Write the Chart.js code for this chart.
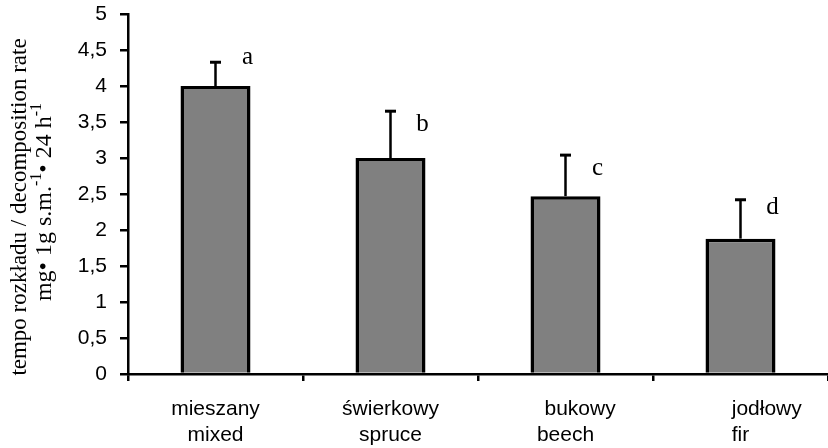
<!DOCTYPE html>
<html>
<head>
<meta charset="utf-8">
<script src="https://cdn.jsdelivr.net/npm/chart.js@4.4.1/dist/chart.umd.min.js"></script>
<style>
  html, body { margin: 0; padding: 0; background: #fff; overflow: hidden; }
  #wrap { width: 828px; height: 448px; }
</style>
</head>
<body>
<div id="wrap"><canvas id="chart" width="828" height="448"></canvas></div>
<script>
// dane
const categories = [['mieszany', 'mixed'], ['świerkowy', 'spruce'], ['\u00a0\u00a0\u00a0\u00a0\u00a0bukowy', 'beech'], ['\u00a0\u00a0\u00a0\u00a0\u00a0\u00a0\u00a0\u00a0\u00a0jodłowy', 'fir']];
const rates = [4.0, 3.0, 2.47, 1.88];
const errUp = [0.33, 0.65, 0.57, 0.54];
const letters = ['a', 'b', 'c', 'd'];
const letterLevel = [4.39, 3.46, 2.86, 2.31];
const yTicks = [0, 0.5, 1, 1.5, 2, 2.5, 3, 3.5, 4, 4.5, 5];

// słupki błędu (tylko w górę) + litery
const errorBars = {
  id: 'errorBars',
  afterDatasetsDraw(chart) {
    const { ctx } = chart;
    const y = chart.scales.y;
    const meta = chart.getDatasetMeta(0);
    ctx.save();
    ctx.strokeStyle = '#000';
    meta.data.forEach((bar, i) => {
      const top = y.getPixelForValue(rates[i] + errUp[i]);
      ctx.lineWidth = 2.5;
      ctx.beginPath();
      ctx.moveTo(bar.x, bar.y);
      ctx.lineTo(bar.x, top);
      ctx.stroke();
      ctx.lineWidth = 3;
      ctx.beginPath();
      ctx.moveTo(bar.x - 5.5, top);
      ctx.lineTo(bar.x + 5.5, top);
      ctx.stroke();

      ctx.fillStyle = '#000';
      ctx.font = '25px "Liberation Serif", "Times New Roman", serif';
      ctx.textAlign = 'center';
      ctx.textBaseline = 'middle';
      ctx.fillText(letters[i], bar.x + 32, y.getPixelForValue(letterLevel[i]));
    });
    ctx.restore();
  }
};

// tytuł osi Y w dwóch liniach, z indeksem górnym
const yTitle = {
  id: 'yTitle',
  afterDraw(chart) {
    const { ctx } = chart;
    const font = '23px "Liberation Serif", "Times New Roman", serif';
    const font2 = '24px "Liberation Serif", "Times New Roman", serif';
    const small = '16px "Liberation Serif", "Times New Roman", serif';
    ctx.save();
    ctx.fillStyle = '#000';
    ctx.textBaseline = 'middle';

    ctx.translate(20, 207);
    ctx.rotate(-Math.PI / 2);
    ctx.font = font;
    ctx.textAlign = 'center';
    ctx.fillText('tempo rozkładu / decomposition rate', 0, 0);
    ctx.restore();

    const parts = [['mg• 1g s.m.', false], ['-1', true], ['• 24 h', false], ['-1', true]];
    ctx.save();
    ctx.fillStyle = '#000';
    ctx.textBaseline = 'middle';
    ctx.textAlign = 'left';
    ctx.translate(45, 202);
    ctx.rotate(-Math.PI / 2);
    let total = 0;
    parts.forEach(([t, sup]) => { ctx.font = sup ? small : font2; total += ctx.measureText(t).width; });
    let x = -total / 2;
    parts.forEach(([t, sup]) => {
      ctx.font = sup ? small : font2;
      ctx.fillText(t, x, sup ? -8 : 0);
      x += ctx.measureText(t).width;
    });
    ctx.restore();
  }
};

new Chart(document.getElementById('chart'), {
  type: 'bar',
  data: {
    labels: categories,
    datasets: [{
      data: rates,
      backgroundColor: '#808080',
      borderColor: '#000',
      borderWidth: 3.5,
      borderSkipped: 'bottom',
      categoryPercentage: 1,
      barPercentage: 0.4
    }]
  },
  options: {
    responsive: false,
    animation: false,
    layout: { padding: { top: 14, right: 0, left: 0, bottom: 0 } },
    plugins: { legend: { display: false }, tooltip: { enabled: false } },
    scales: {
      x: {
        grid: { display: true, drawOnChartArea: false, color: '#000', lineWidth: 2.5, tickLength: 7, offset: true },
        border: { display: true, color: '#000', width: 2.5 },
        ticks: {
          color: '#000',
          padding: 16,
          maxRotation: 0,
          font: { family: '"Liberation Sans", Arial, sans-serif', size: 21, lineHeight: 1.2 }
        },
        afterFit(s) { s.height = 74; s.paddingLeft = 0; s.paddingRight = 0; }
      },
      y: {
        min: 0,
        max: 5,
        afterBuildTicks(s) { s.ticks = yTicks.map(v => ({ value: v })); },
        grid: { display: true, drawOnChartArea: false, color: '#000', lineWidth: 2.5, tickLength: 8 },
        border: { display: true, color: '#000', width: 2.5 },
        ticks: {
          color: '#000',
          padding: 13,
          callback: v => String(v).replace('.', ','),
          font: { family: '"Liberation Sans", Arial, sans-serif', size: 21 }
        },
        afterFit(s) { s.width = 128; s.paddingTop = 0; s.paddingBottom = 0; }
      }
    }
  },
  plugins: [errorBars, yTitle]
});
</script>
</body>
</html>
